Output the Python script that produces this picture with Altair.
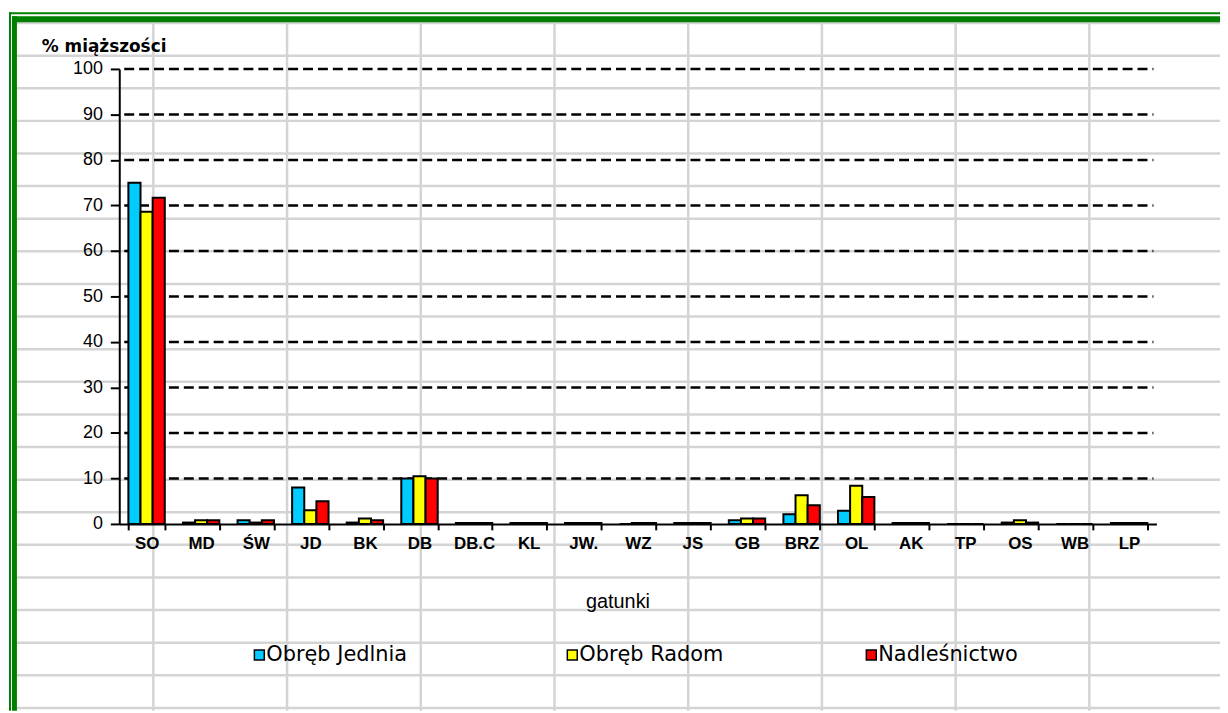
import altair as alt
import pandas as pd

# ---------------- data ----------------
species = ["SO", "MD", "ŚW", "JD", "BK", "DB", "DB.C", "KL", "JW.", "WZ",
           "JS", "GB", "BRZ", "OL", "AK", "TP", "OS", "WB", "LP"]
jedlnia = [75.0, 0.3, 0.8, 8.0, 0.3, 10.0, 0.2, 0.2, 0.2, 0.0,
           0.2, 0.8, 2.1, 2.9, 0.2, 0.0, 0.3, 0.0, 0.2]
radom = [68.6, 0.8, 0.3, 3.0, 1.2, 10.5, 0.2, 0.2, 0.2, 0.2,
         0.2, 1.2, 6.3, 8.4, 0.2, 0.0, 0.8, 0.0, 0.2]
nadl = [71.7, 0.8, 0.8, 5.0, 0.8, 10.0, 0.2, 0.2, 0.2, 0.2,
        0.2, 1.2, 4.1, 5.9, 0.2, 0.0, 0.3, 0.0, 0.2]
series = ["Obręb Jedlnia", "Obręb Radom", "Nadleśnictwo"]
colors = ["#00CCFF", "#FFFF00", "#FF0000"]
y_ticks = list(range(0, 101, 10))
y_title = "% miąższości"
x_title = "gatunki"

FONT = "Liberation Sans"
FONT_W = "DejaVu Sans"

# ---------------- layout (style) ----------------
PL, PT = 112, 59          # padding => plot origin
W, H = 1044, 458          # plot area
OX, OY = PL + 8, PT + 8   # page coordinates of plot origin
PR = 1220 - PL - W
PB = 705 - PT - H

rows_long = []
for s, vals in zip(series, [jedlnia, radom, nadl]):
    for sp, v in zip(species, vals):
        rows_long.append({"gatunek": sp, "seria": s, "value": v})
df = pd.DataFrame(rows_long)

color_scale = alt.Scale(domain=series, range=colors)

# spreadsheet background grid
col0, colstep, ncol = 154.3, 134.6, 8
row0, rowstep, nrow = 20.8, 32.83, 22
vgrid = pd.DataFrame({
    "x": [col0 + k * colstep - OX for k in range(ncol)],
    "y": [row0 - OY] * ncol,
    "y2": [713 - OY] * ncol,
})
hgrid = pd.DataFrame({
    "y": [row0 + k * rowstep - OY for k in range(nrow)],
    "x": [15 - OX] * nrow,
    "x2": [1228 - OX] * nrow,
})
GRAY = "#d4d4d4"
vg = alt.Chart(vgrid).mark_rule(color=GRAY, strokeWidth=2.5).encode(
    x=alt.X("x:Q", scale=None, axis=None),
    y=alt.Y("y:Q", scale=None, axis=None),
    y2="y2:Q",
)
hg = alt.Chart(hgrid).mark_rule(color=GRAY, strokeWidth=2.5).encode(
    y=alt.Y("y:Q", scale=None, axis=None),
    x=alt.X("x:Q", scale=None, axis=None),
    x2="x2:Q",
)

# green double frame
GREEN = "#008000"
frame_h = pd.DataFrame({"y": [11 - OY, 17 - OY], "x": [9 - OX, 12.5 - OX],
                        "x2": [1228 - OX, 1228 - OX], "w": [2, 6]})
frame_v = pd.DataFrame({"x": [10 - OX, 14.5 - OX], "y": [10 - OY, 14 - OY],
                        "y2": [713 - OY, 713 - OY], "w": [2, 5]})
fh = alt.Chart(frame_h).mark_rule(color=GREEN).encode(
    y=alt.Y("y:Q", scale=None, axis=None),
    x=alt.X("x:Q", scale=None, axis=None),
    x2="x2:Q",
    strokeWidth=alt.StrokeWidth("w:Q", scale=None, legend=None),
)
fv = alt.Chart(frame_v).mark_rule(color=GREEN).encode(
    x=alt.X("x:Q", scale=None, axis=None),
    y=alt.Y("y:Q", scale=None, axis=None),
    y2="y2:Q",
    strokeWidth=alt.StrokeWidth("w:Q", scale=None, legend=None),
)

yscale = alt.Scale(domain=[0, 100])
yaxis = alt.Axis(values=y_ticks, grid=False, tickSize=9,
                 tickWidth=2, tickColor="black",
                 domainColor="black", domainWidth=2,
                 labelFont=FONT, labelFontSize=18,
                 labelColor="black", labelPadding=8,
                 title=None, zindex=1)

# dashed value gridlines
dash = alt.Chart(pd.DataFrame({"v": y_ticks[1:]})).mark_rule(
    color="black", strokeWidth=2.5, strokeDash=[10, 5]
).encode(
    y=alt.Y("v:Q", scale=yscale, axis=yaxis),
    x=alt.value(5),
    x2=alt.value(W - 3),
)

bars = alt.Chart(df).mark_bar(stroke="black", strokeWidth=2).encode(
    x=alt.X("gatunek:N", sort=species,
            scale=alt.Scale(paddingInner=0.333, paddingOuter=0.167),
            axis=alt.Axis(labelAngle=0, labelFont=FONT, labelFontSize=17,
                          labelFontWeight="bold", labelColor="black",
                          tickBand="extent", tickSize=6, tickWidth=2,
                          tickColor="black", domainColor="black",
                          domainWidth=2, labelPadding=6, title=None,
                          zindex=1)),
    xOffset=alt.XOffset("seria:N", sort=series),
    y=alt.Y("value:Q", scale=yscale, axis=yaxis),
    color=alt.Color("seria:N", scale=color_scale, legend=None),
)

# titles
titles = pd.DataFrame({
    "t": [y_title, x_title],
    "x": [42 - OX, 622 - OX],
    "y": [45 - OY, 604 - OY],
})
ytitle = alt.Chart(titles.iloc[[0]]).mark_text(
    font=FONT_W, fontSize=17, fontWeight="bold", align="left",
    baseline="middle", color="black"
).encode(x=alt.X("x:Q", scale=None, axis=None),
         y=alt.Y("y:Q", scale=None, axis=None), text="t:N")
xtitle = alt.Chart(titles.iloc[[1]]).mark_text(
    font=FONT, fontSize=20, align="center", baseline="middle", color="black"
).encode(x=alt.X("x:Q", scale=None, axis=None),
         y=alt.Y("y:Q", scale=None, axis=None), text="t:N")

# custom legend
leg = pd.DataFrame({
    "seria": series,
    "sx": [261 - OX, 576 - OX, 877 - OX],
    "tx": [268 - OX, 583 - OX, 884 - OX],
    "y": [657 - OY] * 3,
})
leg_sw = alt.Chart(leg).mark_square(size=100, stroke="black", strokeWidth=1.5,
                                    opacity=1).encode(
    x=alt.X("sx:Q", scale=None, axis=None),
    y=alt.Y("y:Q", scale=None, axis=None),
    fill=alt.Fill("seria:N", scale=color_scale, legend=None),
)
leg_tx = alt.Chart(leg).mark_text(font=FONT_W, fontSize=21, align="left",
                                  baseline="middle", color="black").encode(
    x=alt.X("tx:Q", scale=None, axis=None),
    y=alt.Y("y:Q", scale=None, axis=None),
    text="seria:N",
)

chart = alt.layer(
    vg, hg, fh, fv, dash, bars, ytitle, xtitle, leg_sw, leg_tx
).properties(
    width=W, height=H,
    padding={"left": PL, "top": PT, "right": PR, "bottom": PB},
    autosize=alt.AutoSizeParams(type="none"),
    background="white",
).configure_view(stroke=None)

chart.save("out.html", embed_options={"renderer": "svg", "actions": False})
